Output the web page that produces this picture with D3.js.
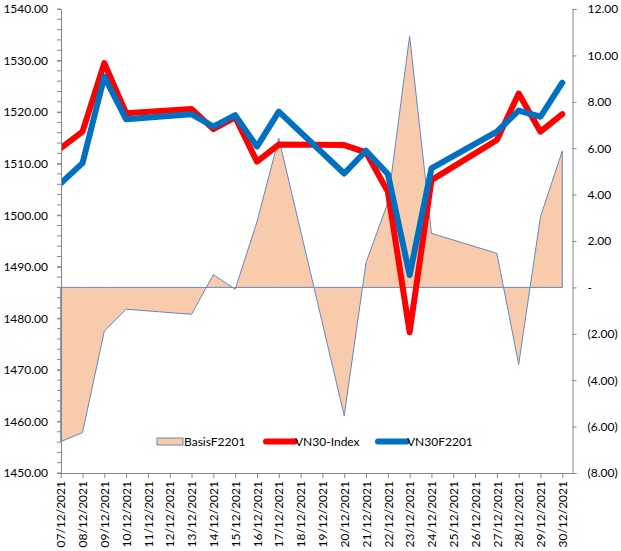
<!DOCTYPE html>
<html>
<head>
<meta charset="utf-8">
<script src="https://cdn.jsdelivr.net/npm/d3@7"></script>
<style>
  html, body { margin: 0; padding: 0; background: #fff; }
  svg { display: block; font-family: Lato, "Open Sans", sans-serif; }
</style>
</head>
<body>
<svg id="chart" width="621" height="551"></svg>
<script>
// ---- data ----
const allDates = ["07/12/2021","08/12/2021","09/12/2021","10/12/2021","11/12/2021","12/12/2021",
  "13/12/2021","14/12/2021","15/12/2021","16/12/2021","17/12/2021","18/12/2021","19/12/2021",
  "20/12/2021","21/12/2021","22/12/2021","23/12/2021","24/12/2021","25/12/2021","26/12/2021",
  "27/12/2021","28/12/2021","29/12/2021","30/12/2021"];
const tradingDays = ["07/12/2021","08/12/2021","09/12/2021","10/12/2021","13/12/2021","14/12/2021",
  "15/12/2021","16/12/2021","17/12/2021","20/12/2021","21/12/2021","22/12/2021","23/12/2021",
  "24/12/2021","27/12/2021","28/12/2021","29/12/2021","30/12/2021"];
const vn30Index = [1513.0, 1516.2, 1529.5, 1519.8, 1520.6, 1516.7, 1519.0, 1510.4, 1513.7,
  1513.6, 1512.2, 1504.6, 1477.3, 1506.8, 1514.6, 1523.6, 1516.2, 1519.6];
const vn30F2201 = [1506.2, 1510.1, 1526.9, 1518.6, 1519.6, 1517.2, 1519.4, 1513.3, 1520.1,
  1508.1, 1512.5, 1508.0, 1488.4, 1509.1, 1516.2, 1520.3, 1519.1, 1525.7];
const basisF2201 = [-6.65, -6.26, -1.88, -0.94, -1.16, 0.55, -0.08, 2.83, 6.43,
  -5.53, 1.07, 3.65, 10.84, 2.33, 1.47, -3.32, 3.05, 5.88];
const leftTicks = [1450, 1460, 1470, 1480, 1490, 1500, 1510, 1520, 1530, 1540];
const rightTicks = [-8, -6, -4, -2, 0, 2, 4, 6, 8, 10, 12];
const seriesNames = ["BasisF2201", "VN30-Index", "VN30F2201"];

// ---- layout ----
const svg = d3.select("#chart");
const plotLeft = 61, plotRight = 572.5, plotTop = 9, plotBottom = 473;
const x = d3.scalePoint().domain(allDates).range([60.7, 562.3]);
const yL = d3.scaleLinear().domain([1450, 1540]).range([plotBottom, plotTop]);
const yR = d3.scaleLinear().domain([-8, 12]).range([plotBottom, plotTop]);
const axisColor = "#868686";

svg.append("defs").append("clipPath").attr("id", "plotClip")
  .append("rect").attr("x", plotLeft).attr("y", 0).attr("width", plotRight - plotLeft).attr("height", plotBottom);

// ---- area (basis) ----
const basisData = tradingDays.map((d, i) => ({d, v: basisF2201[i]}));
const area = d3.area().x(p => x(p.d)).y0(yR(0)).y1(p => yR(p.v));
svg.append("path").datum(basisData).attr("d", area)
  .attr("fill", "#F8CBAD").attr("stroke", "#6787BF").attr("stroke-width", 1);

// ---- lines ----
const line = d3.line().x(p => x(p.d)).y(p => yL(p.v));
const redData = tradingDays.map((d, i) => ({d, v: vn30Index[i]}));
const blueData = tradingDays.map((d, i) => ({d, v: vn30F2201[i]}));
const lines = svg.append("g").attr("clip-path", "url(#plotClip)");
lines.append("path").datum(redData).attr("d", line).attr("fill", "none")
  .attr("stroke", "#FF0000").attr("stroke-width", 6).attr("stroke-linejoin", "round").attr("stroke-linecap", "round");
lines.append("path").datum(blueData).attr("d", line).attr("fill", "none")
  .attr("stroke", "#0070C0").attr("stroke-width", 6).attr("stroke-linejoin", "round").attr("stroke-linecap", "round");

// ---- left axis ----
const leftAxis = d3.axisLeft(yL).tickValues(leftTicks).tickSize(4).tickPadding(9)
  .tickFormat(d3.format(".2f"));
const gL = svg.append("g").attr("transform", `translate(${plotLeft},0)`).call(leftAxis);
const minor = d3.range(1450, 1541, 2);
gL.selectAll(".minor").data(minor).enter().append("line").attr("class", "minor")
  .attr("x1", -4).attr("x2", 0).attr("y1", d => yL(d)).attr("y2", d => yL(d)).attr("stroke", axisColor);

// ---- right axis ----
const fmtR = d => d === 0 ? "-" : (d < 0 ? "(" + d3.format(".2f")(-d) + ")" : d3.format(".2f")(d));
const rightAxis = d3.axisRight(yR).tickValues(rightTicks).tickSize(4).tickPadding(11).tickFormat(fmtR);
const gR = svg.append("g").attr("transform", `translate(${plotRight},0)`).call(rightAxis);

// ---- bottom axis ----
const bottomAxis = d3.axisBottom(x).tickSize(5).tickSizeOuter(0);
const gB = svg.append("g").attr("transform", `translate(0,${plotBottom})`).call(bottomAxis);
gB.select(".domain").attr("d", `M${plotLeft},0.5H${plotRight}`);
gB.selectAll(".tick text")
  .attr("transform", "rotate(-90)")
  .attr("text-anchor", "end")
  .attr("x", -8).attr("y", 0).attr("dy", "0.35em");

[gL, gR, gB].forEach(g => {
  g.select(".domain").attr("stroke", axisColor);
  g.selectAll(".tick line").attr("stroke", axisColor);
  g.selectAll(".tick text").attr("fill", "#000").style("font-size", "12px").style("font-family", "Lato, sans-serif");
});
gR.selectAll(".tick text").attr("text-anchor", "start");

// ---- legend ----
const lg = svg.append("g").style("font-size", "12px").style("font-family", "Lato, sans-serif");
const ly = 441.5;
lg.append("rect").attr("x", 157).attr("y", ly - 3.5).attr("width", 26).attr("height", 7)
  .attr("fill", "#F8CBAD").attr("stroke", "#6787BF").attr("stroke-width", 1);
lg.append("text").attr("x", 184).attr("y", ly).attr("dy", "0.35em").text(seriesNames[0]);
lg.append("line").attr("x1", 266).attr("x2", 295).attr("y1", ly).attr("y2", ly)
  .attr("stroke", "#FF0000").attr("stroke-width", 6).attr("stroke-linecap", "round");
lg.append("text").attr("x", 295).attr("y", ly).attr("dy", "0.35em").text(seriesNames[1]);
lg.append("line").attr("x1", 378).attr("x2", 407).attr("y1", ly).attr("y2", ly)
  .attr("stroke", "#0070C0").attr("stroke-width", 6).attr("stroke-linecap", "round");
lg.append("text").attr("x", 407).attr("y", ly).attr("dy", "0.35em").text(seriesNames[2]);
</script>
</body>
</html>
